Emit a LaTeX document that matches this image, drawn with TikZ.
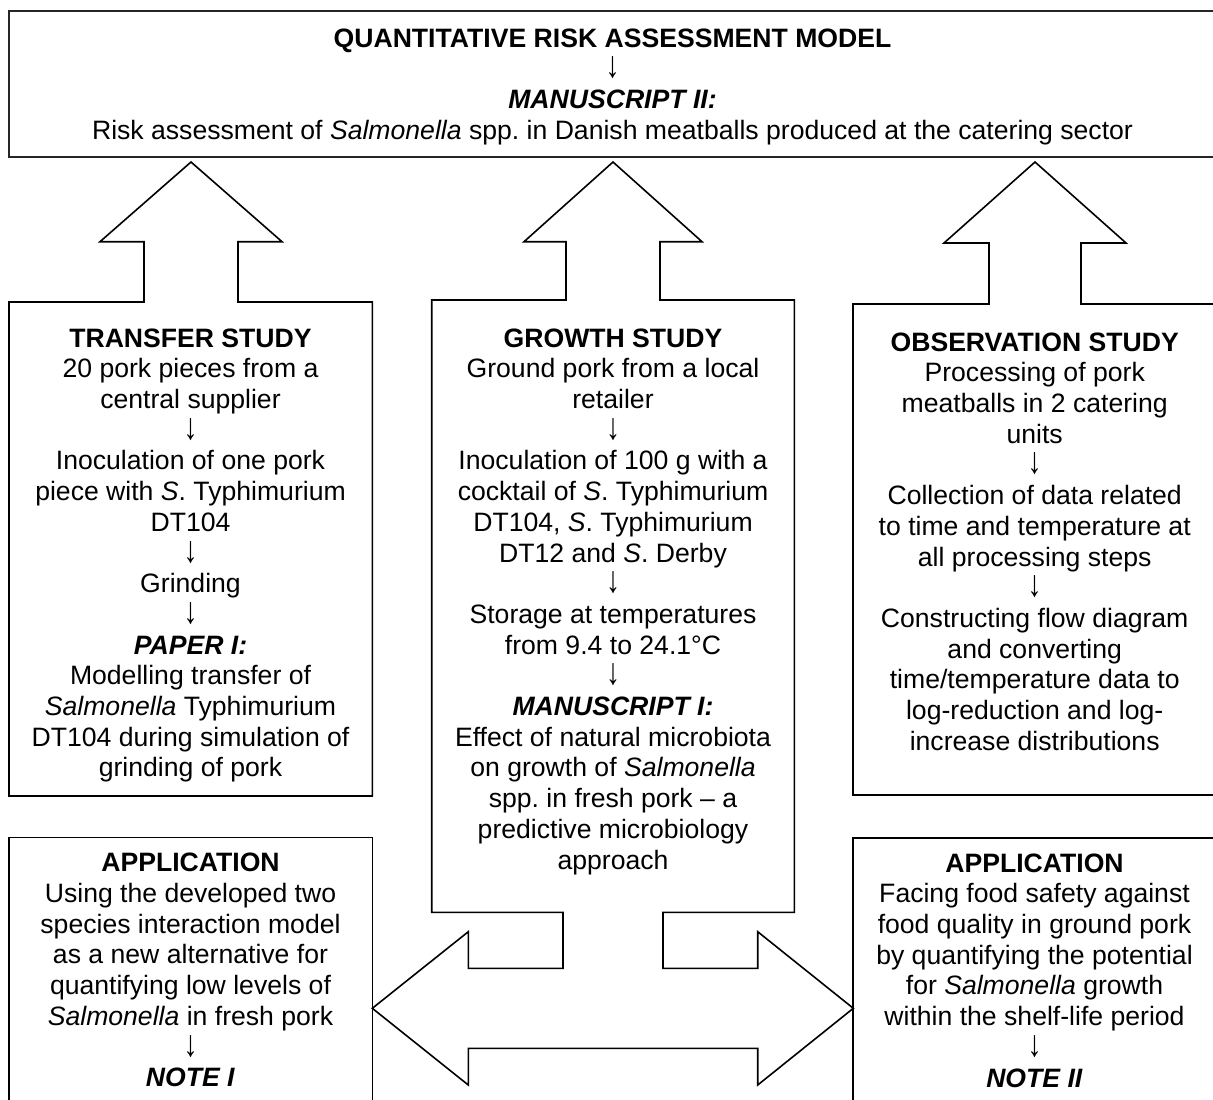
\documentclass[tikz,border=0pt]{standalone}
\usepackage{fontspec}
\setmainfont{Liberation Sans}
\newcommand{\dnarrow}{\scalebox{1.05}[1.4]{↓}}
\begin{document}
\begin{tikzpicture}[x=1pt,y=-1pt,
  outline/.style={draw=black,line width=1.6pt,line join=miter},
  topline/.style={draw=black!85,line width=2.4pt},
  boxtext/.style={anchor=north,inner sep=0pt,align=center,font=\fontsize{26.6}{30.7}\selectfont}]
\useasboundingbox (0,0) rectangle (1213,1100);
\fill[white] (0,0) rectangle (1213,1100);
\clip (0,0) rectangle (1213,1100);

% top box
\draw[topline] (9,10.7) rectangle (1216,157);

% transfer box with up arrow
\draw[outline] (144,302) -- (144,241.7) -- (100,241.7) -- (191,162) -- (282,241.7) -- (238,241.7) -- (238,302)
  -- (372.3,302) -- (372.3,796) -- (9,796) -- (9,302) -- cycle;

% growth box with up arrow and double arrow
\draw[outline] (431.7,300) -- (566,300) -- (566,241.7) -- (524,241.7) -- (613,162) -- (702,241.7) -- (660,241.7) -- (660,300)
  -- (794.3,300) -- (794.3,912.3) -- (663,912.3) -- (663,968.3) -- (757.7,968.3) -- (757.7,931.7) -- (853.3,1008.3)
  -- (757.7,1085) -- (757.7,1048.3) -- (468.3,1048.3) -- (468.3,1085) -- (372.3,1008.3) -- (468.3,931.7)
  -- (468.3,968.3) -- (563,968.3) -- (563,912.3) -- (431.7,912.3) -- cycle;

% observation box with up arrow
\draw[outline] (989,304) -- (989,243) -- (944,243) -- (1035,162) -- (1126,243) -- (1081,243) -- (1081,304)
  -- (1220,304) -- (1220,795) -- (853,795) -- (853,304) -- cycle;

% application boxes
\draw[outline] (9,1110) -- (9,837.3) -- (372.3,837.3) -- (372.3,1110);
\draw[outline] (853,1110) -- (853,838) -- (1220,838);

% texts
\node[boxtext] (top) at (612.5,28.4) {\textbf{QUANTITATIVE RISK ASSESSMENT MODEL}\\ \dnarrow\\ \textbf{\textit{MANUSCRIPT II:}}\\ Risk assessment of \textit{Salmonella} spp.\ in Danish meatballs produced at the catering sector};

\node[boxtext] (transfer) at (190.5,328.4) {\textbf{TRANSFER STUDY}\\ 20 pork pieces from a\\ central supplier\\ \dnarrow\\ Inoculation of one pork\\ piece with \textit{S}. Typhimurium\\ DT104\\ \dnarrow\\ Grinding\\ \dnarrow\\ \textbf{\textit{PAPER I:}}\\ Modelling transfer of\\ \textit{Salmonella} Typhimurium\\ DT104 during simulation of\\ grinding of pork};

\node[boxtext] (growth) at (613,328.4) {\textbf{GROWTH STUDY}\\ Ground pork from a local\\ retailer\\ \dnarrow\\ Inoculation of 100 g with a\\ cocktail of \textit{S}. Typhimurium\\ DT104, \textit{S}. Typhimurium\\ DT12 and \textit{S}. Derby\\ \dnarrow\\ Storage at temperatures\\ from 9.4 to 24.1°C\\ \dnarrow\\ \textbf{\textit{MANUSCRIPT I:}}\\ Effect of natural microbiota\\ on growth of \textit{Salmonella}\\ spp.\ in fresh pork – a\\ predictive microbiology\\ approach};

\node[boxtext] (observation) at (1034.7,332.4) {\textbf{OBSERVATION STUDY}\\ Processing of pork\\ meatballs in 2 catering\\ units\\ \dnarrow\\ Collection of data related\\ to time and temperature at\\ all processing steps\\ \dnarrow\\ Constructing flow diagram\\ and converting\\ time/temperature data to\\ log-reduction and log-\\ increase distributions};

\node[boxtext] (appleft) at (190.5,853.1) {\textbf{APPLICATION}\\ Using the developed two\\ species interaction model\\ as a new alternative for\\ quantifying low levels of\\ \textit{Salmonella} in fresh pork\\ \dnarrow\\ \textbf{\textit{NOTE I}}};

\node[boxtext] (appright) at (1034.5,853.4) {\textbf{APPLICATION}\\ Facing food safety against\\ food quality in ground pork\\ by quantifying the potential\\ for \textit{Salmonella} growth\\ within the shelf-life period\\ \dnarrow\\ \textbf{\textit{NOTE II}}};
\end{tikzpicture}
\end{document}
